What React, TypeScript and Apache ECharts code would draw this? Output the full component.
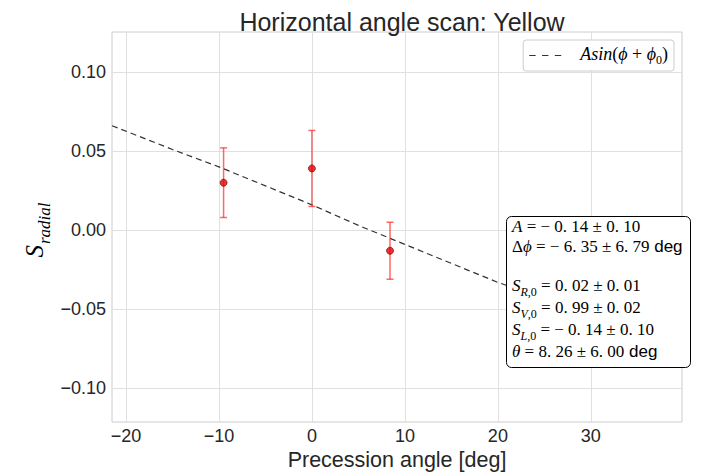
import React, { useEffect, useRef } from "react";
import * as echarts from "echarts";

// Measured points (precession angle in deg, S_radial, error)
const anglesDeg = [-9.5, 0, 8.4];
const sRadial = [0.030, 0.039, -0.013];
const sRadialErr = [0.022, 0.024, 0.018];

// Fit curve A sin(phi + phi0)
const fitAngles = [-21.5, -15, -10, -5, 0, 5, 10, 15, 20, 22];
const fitValues = [0.066, 0.051, 0.040, 0.028, 0.016, 0.003, -0.009, -0.021, -0.033, -0.037];

const xTicks = [-20, -10, 0, 10, 20, 30];
const yTicks = [-0.1, -0.05, 0, 0.05, 0.1];

const TEXT = "#262626";
const SERIF = "'Liberation Serif', 'DejaVu Serif', serif";
const SANS = "'Liberation Sans', Arial, sans-serif";

const minus = (s: string) => s.replace(/-/g, "\u2212");

const mathRich = {
  i: { fontFamily: SERIF, fontStyle: "italic", fontSize: 17, color: "#000", verticalAlign: "bottom", padding: [0, 0, 4, 0] },
  r: { fontFamily: SERIF, fontSize: 17, color: "#000", verticalAlign: "bottom", padding: [0, 0, 4, 0] },
  s: { fontFamily: SERIF, fontStyle: "italic", fontSize: 12, color: "#000", verticalAlign: "bottom" },
  sr: { fontFamily: SERIF, fontSize: 12, color: "#000", verticalAlign: "bottom" },
  d: { fontFamily: SANS, fontSize: 17, color: "#000", verticalAlign: "bottom", padding: [0, 0, 4, 0] },
};

const boxLines: { text: string; y: number }[] = [
  { text: "{i|A}{r| = \u2212 0. 14 \u00b1 0. 10}", y: 228 },
  { text: "{r|\u0394}{i|\u03d5}{r| = \u2212 6. 35 \u00b1 6. 79}{d| deg}", y: 248 },
  { text: "{i|S}{s|R}{sr|,0}{r| = 0. 02 \u00b1 0. 01}", y: 287 },
  { text: "{i|S}{s|V}{sr|,0}{r| = 0. 99 \u00b1 0. 02}", y: 309 },
  { text: "{i|S}{s|L}{sr|,0}{r| = \u2212 0. 14 \u00b1 0. 10}", y: 331 },
  { text: "{i|\u03b8}{r| = 8. 26 \u00b1 6. 00}{d| deg}", y: 353 },
];

export default function App() {
  const ref = useRef<HTMLDivElement>(null);

  useEffect(() => {
    if (!ref.current) return;
    const chart = echarts.init(ref.current, null, { renderer: "svg" });

    const errData = anglesDeg.map((a, i) => [a, sRadial[i], sRadialErr[i]]);
    const ptData = anglesDeg.map((a, i) => [a, sRadial[i]]);
    const fitData = fitAngles.map((a, i) => [a, fitValues[i]]);

    chart.setOption({
      animation: false,
      backgroundColor: "#fff",
      title: {
        text: "Horizontal angle scan: Yellow",
        left: 397,
        textAlign: "center",
        top: 4,
        textStyle: { fontFamily: SANS, fontSize: 25, fontWeight: "normal", color: TEXT },
      },
      grid: {
        left: 112,
        top: 32,
        width: 570,
        height: 390,
        outerBoundsMode: "none",
        containLabel: false,
        show: true,
        borderColor: "#cccccc",
        borderWidth: 1,
        backgroundColor: "transparent",
      },
      legend: {
        right: 35,
        top: 40,
        orient: "vertical",
        backgroundColor: "#fff",
        borderColor: "#cccccc",
        borderWidth: 1,
        borderRadius: 3,
        padding: [5, 6, 5, 6],
        itemWidth: 32,
        itemHeight: 14,
        itemGap: 4,
        data: [{ name: "fit", icon: "path://M0,0H6V1H0Z M12,0H18V1H12Z M24,0H30V1H24Z" }],
        formatter: () => "{i|Asin}{r|(}{i|\u03d5}{r| + }{i|\u03d5}{sr|0}{r|)}",
        textStyle: {
          rich: {
            i: { fontFamily: SERIF, fontStyle: "italic", fontSize: 18, color: "#000", verticalAlign: "bottom", padding: [0, 0, 3, 0] },
            r: { fontFamily: SERIF, fontSize: 18, color: "#000", verticalAlign: "bottom", padding: [0, 0, 3, 0] },
            sr: { fontFamily: SERIF, fontSize: 12, color: "#000", verticalAlign: "bottom" },
          },
          padding: [0, 0, 0, 14],
        },
      },
      xAxis: {
        type: "value",
        min: -21.5,
        max: 39.8,
        axisLine: { show: false },
        axisTick: { show: false, customValues: xTicks },
        axisLabel: {
          customValues: xTicks,
          fontFamily: SANS,
          fontSize: 18,
          lineHeight: 18,
          color: TEXT,
          margin: 5,
          formatter: (v: number) => minus(String(v)),
        },
        splitLine: { show: true, lineStyle: { color: "#e0e0e0", width: 1 } },
      },
      yAxis: {
        type: "value",
        min: -0.1212,
        max: 0.1252,
        axisLine: { show: false },
        axisTick: { show: false, customValues: yTicks },
        axisLabel: {
          customValues: yTicks,
          fontFamily: SANS,
          fontSize: 18,
          color: TEXT,
          margin: 6,
          formatter: (v: number) => minus(v.toFixed(2)),
        },
        splitLine: { show: true, lineStyle: { color: "#e0e0e0", width: 1 } },
      },
      graphic: [
        {
          type: "text",
          x: 397,
          y: 460,
          z: 10,
          style: {
            text: "Precession angle [deg]",
            align: "center",
            verticalAlign: "middle",
            fontFamily: SANS,
            fontSize: 21.5,
            lineHeight: 21,
            fill: TEXT,
          },
        },
        {
          type: "text",
          x: 37,
          y: 230,
          rotation: Math.PI / 2,
          z: 10,
          style: {
            text: "{S|S}{sub|radial}",
            align: "center",
            verticalAlign: "middle",
            rich: {
              S: { fontFamily: SERIF, fontStyle: "italic", fontSize: 25, color: TEXT, verticalAlign: "bottom", padding: [0, 1, 6, 0] },
              sub: { fontFamily: SERIF, fontStyle: "italic", fontSize: 17, color: TEXT, verticalAlign: "bottom" },
            },
          },
        },
        {
          type: "rect",
          z: 100,
          shape: { x: 506.5, y: 216.5, width: 184, height: 151, r: 5 },
          style: { fill: "#fff", stroke: "#000", lineWidth: 1 },
        },
        ...boxLines.map((l) => ({
          type: "text",
          z: 101,
          x: 512,
          y: l.y,
          style: { text: l.text, verticalAlign: "middle", align: "left", rich: mathRich },
        })),
      ],
      series: [
        {
          name: "fit",
          type: "line",
          data: fitData,
          symbol: "none",
          showSymbol: false,
          lineStyle: { color: "#333", width: 1.2, type: [6, 4] },
          itemStyle: { color: "#333" },
          z: 2,
        },
        {
          name: "err",
          type: "custom",
          data: errData,
          encode: { x: 0, y: 1 },
          z: 3,
          renderItem: (params: any, api: any) => {
            const x = api.value(0);
            const y = api.value(1);
            const e = api.value(2);
            const top = api.coord([x, y + e]);
            const bot = api.coord([x, y - e]);
            const w = 3.5;
            const st = { stroke: "rgba(255,40,40,0.7)", lineWidth: 1.5 };
            return {
              type: "group",
              children: [
                { type: "line", shape: { x1: top[0], y1: top[1], x2: bot[0], y2: bot[1] }, style: st },
                { type: "line", shape: { x1: top[0] - w, y1: top[1], x2: top[0] + w, y2: top[1] }, style: st },
                { type: "line", shape: { x1: bot[0] - w, y1: bot[1], x2: bot[0] + w, y2: bot[1] }, style: st },
              ],
            };
          },
        },
        {
          name: "data",
          type: "scatter",
          data: ptData,
          symbol: "circle",
          symbolSize: 7,
          itemStyle: { color: "#ee0000", borderColor: "#550000", borderWidth: 0.8 },
          z: 4,
        },
      ],
    });

    return () => chart.dispose();
  }, []);

  return (
    <div
      ref={ref}
      style={{ position: "fixed", left: 0, top: 0, width: 709, height: 472, background: "#fff" }}
    />
  );
}
